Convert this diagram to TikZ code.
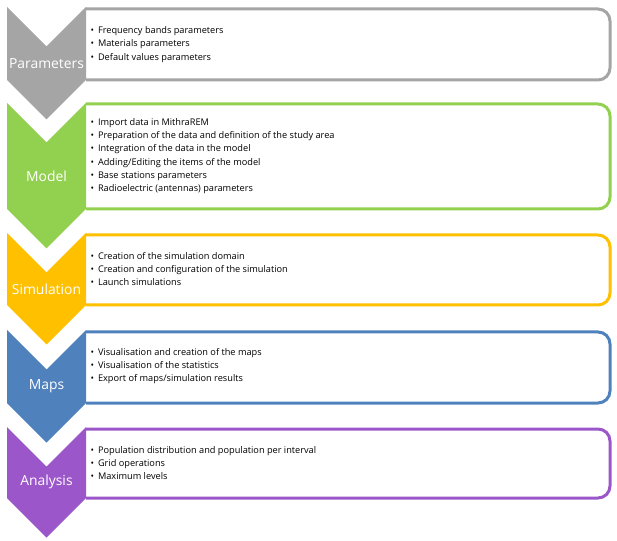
\documentclass[tikz,border=0pt]{standalone}
\usepackage{fontspec}
\setmainfont{Open Sans}
\usepackage{tikz}
\usetikzlibrary{positioning}

\definecolor{paramgray}{RGB}{165,165,165}
\definecolor{modelgreen}{RGB}{146,208,80}
\definecolor{simyellow}{RGB}{255,192,0}
\definecolor{mapsblue}{RGB}{79,129,189}
\definecolor{anapurple}{RGB}{155,87,201}

\newcommand{\stepitem}[1]{\textbullet\hspace{3pt}#1}

\tikzset{
  stepframe/.style={line width=2.25pt, rounded corners=9pt, fill=white},
  steplabel/.style={text=white, inner sep=0pt, font=\fontsize{10.4}{12}\selectfont},
  itemlist/.style={anchor=west, align=left, inner sep=0pt, text=black, font=\fontsize{6.9}{10}\selectfont},
}

\begin{document}
\begin{tikzpicture}[x=0.75pt,y=0.75pt,yscale=-1,xscale=1]
\useasboundingbox (0,0) rectangle (617,541);

%Shape: Frames
\draw [stepframe, draw=paramgray]  (86,9) -- (610,9) -- (610,80) -- (86,80) ;
\draw [stepframe, draw=modelgreen] (86,104) -- (610,104) -- (610,209) -- (86,209) ;
\draw [stepframe, draw=simyellow]  (86,235) -- (610,235) -- (610,305) -- (86,305) ;
\draw [stepframe, draw=mapsblue]   (86,332) -- (610,332) -- (610,403) -- (86,403) ;
\draw [stepframe, draw=anapurple]  (86,429) -- (610,429) -- (610,498) -- (86,498) ;

%Shape: Chevrons
\fill [paramgray]  (7,7) -- (46.5,46.5) -- (86,7) -- (86,80) -- (46.5,119.5) -- (7,80) -- cycle ;
\fill [modelgreen] (7,103) -- (46.5,142.5) -- (86,103) -- (86,209) -- (46.5,248.5) -- (7,209) -- cycle ;
\fill [simyellow]  (7,233) -- (46.5,272.5) -- (86,233) -- (86,305) -- (46.5,344.5) -- (7,305) -- cycle ;
\fill [mapsblue]   (7,330) -- (46.5,369.5) -- (86,330) -- (86,403) -- (46.5,442.5) -- (7,403) -- cycle ;
\fill [anapurple]  (7,427) -- (46.5,466.5) -- (86,427) -- (86,498) -- (46.5,537.5) -- (7,498) -- cycle ;

% Text Node
\node [steplabel] (parameters) at (46.5,63.5) {Parameters};
% Text Node
\node [steplabel] (model) at (46.5,176) {Model};
% Text Node
\node [steplabel] (simulation) at (46.5,289) {Simulation};
% Text Node
\node [steplabel] (maps) at (46.5,386) {Maps};
% Text Node
\node [steplabel] (analysis) at (46.5,482) {Analysis};

% Text Node
\node [itemlist] (paramitems) at (90.3,44.5) {\stepitem{Frequency bands parameters}\\ \stepitem{Materials parameters}\\ \stepitem{Default values parameters}};
% Text Node
\node [itemlist] (modelitems) at (90.3,156) {\stepitem{Import data in MithraREM}\\ \stepitem{Preparation of the data and definition of the study area}\\ \stepitem{Integration of the data in the model}\\ \stepitem{Adding/Editing the items of the model}\\ \stepitem{Base stations parameters}\\ \stepitem{Radioelectric (antennas) parameters}};
% Text Node
\node [itemlist] (simitems) at (90.3,269) {\stepitem{Creation of the simulation domain}\\ \stepitem{Creation and configuration of the simulation}\\ \stepitem{Launch simulations}};
% Text Node
\node [itemlist] (mapsitems) at (90.3,366) {\stepitem{Visualisation and creation of the maps}\\ \stepitem{Visualisation of the statistics}\\ \stepitem{Export of maps/simulation results}};
% Text Node
\node [itemlist] (anaitems) at (90.3,463) {\stepitem{Population distribution and population per interval}\\ \stepitem{Grid operations}\\ \stepitem{Maximum levels}};

\end{tikzpicture}
\end{document}
